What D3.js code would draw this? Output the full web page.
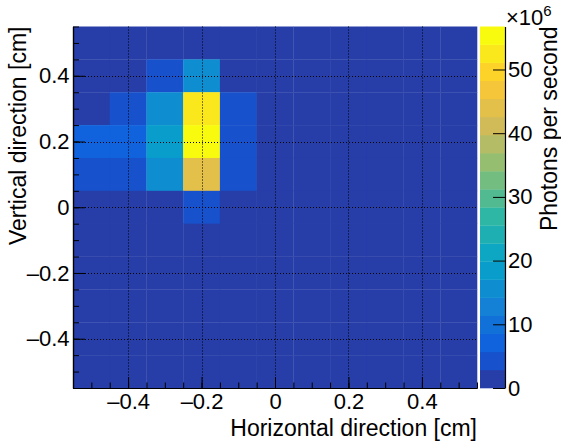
<!DOCTYPE html>
<html>
<head>
<meta charset="utf-8">
<script src="https://cdn.jsdelivr.net/npm/d3@7"></script>
<style>
  body { margin: 0; background: #fff; }
  text { font-family: "Liberation Sans", Arial, Helvetica, sans-serif; }
</style>
</head>
<body>
<div id="chart"></div>
<script>
// bin centres (cm)
var xBins = [-0.5, -0.4, -0.3, -0.2, -0.1, 0, 0.1, 0.2, 0.3, 0.4, 0.5];
var yBins = [0.5, 0.4, 0.3, 0.2, 0.1, 0, -0.1, -0.2, -0.3, -0.4, -0.5];

// photons per second (x1e6), one row per yBins entry
var photons = [
  [0, 0, 0, 0, 0, 0, 0, 0, 0, 0, 0],
  [0, 0, 4.2, 15.0, 0, 0, 0, 0, 0, 0, 0],
  [0, 4.0, 15.5, 52.5, 4.3, 0, 0, 0, 0, 0, 0],
  [7.0, 7.2, 18.2, 56.75, 4.5, 0, 0, 0, 0, 0, 0],
  [4.0, 4.1, 15.2, 43.5, 4.1, 0, 0, 0, 0, 0, 0],
  [0, 0, 0, 4.0, 0, 0, 0, 0, 0, 0, 0],
  [0, 0, 0, 0, 0, 0, 0, 0, 0, 0, 0],
  [0, 0, 0, 0, 0, 0, 0, 0, 0, 0, 0],
  [0, 0, 0, 0, 0, 0, 0, 0, 0, 0, 0],
  [0, 0, 0, 0, 0, 0, 0, 0, 0, 0, 0],
  [0, 0, 0, 0, 0, 0, 0, 0, 0, 0, 0]
];

var axisTicks = [-0.4, -0.2, 0, 0.2, 0.4];
var zTicks = [0, 10, 20, 30, 40, 50];
var nContours = 20;

// ROOT kBird palette stops
var birdStops = [0.0, 0.125, 0.25, 0.375, 0.5, 0.625, 0.75, 0.875, 1.0];
var birdRed = [0.2082, 0.0592, 0.0780, 0.0232, 0.1802, 0.5301, 0.8186, 0.9956, 0.9764];
var birdGreen = [0.1664, 0.3599, 0.5041, 0.6419, 0.7178, 0.7492, 0.7328, 0.7862, 0.9832];
var birdBlue = [0.5293, 0.8684, 0.8385, 0.7914, 0.6425, 0.4662, 0.3499, 0.1968, 0.0539];

var svgWidth = 561;
var svgHeight = 444;
var frame = { left: 73, right: 477, top: 26.5, bottom: 388 };
var pal = { left: 480, right: 505 };

var svg = d3.select("#chart").append("svg")
  .attr("width", svgWidth)
  .attr("height", svgHeight);

svg.append("rect").attr("width", svgWidth).attr("height", svgHeight).attr("fill", "#fff");

var x = d3.scaleLinear().domain([-0.55, 0.55]).range([frame.left, frame.right]);
var y = d3.scaleLinear().domain([-0.55, 0.55]).range([frame.bottom, frame.top]);

var zMax = d3.max(photons, r => d3.max(r));
var z = d3.scaleLinear().domain([0, zMax]).range([frame.bottom, frame.top]);

var bird = d3.scaleLinear()
  .domain(birdStops)
  .range(birdStops.map((s, i) => d3.rgb(birdRed[i] * 255, birdGreen[i] * 255, birdBlue[i] * 255)))
  .interpolate(d3.interpolateRgb);

// colour of contour level, the way ROOT picks it out of 255 colours
function levelColor(k) {
  var idx = Math.floor((k + 0.99) * 255 / nContours);
  return bird(idx / 254);
}
function valueColor(v) {
  var k = Math.min(nContours - 1, Math.floor(v / zMax * nContours));
  return levelColor(k);
}

// cells
var cells = [];
yBins.forEach((yc, j) => xBins.forEach((xc, i) => cells.push({ x: xc, y: yc, v: photons[j][i] })));

var half = 0.05;
svg.append("g").selectAll("rect").data(cells).join("rect")
  .attr("x", d => x(d.x - half))
  .attr("y", d => y(d.y + half))
  .attr("width", d => x(d.x + half) - x(d.x - half) + 0.3)
  .attr("height", d => y(d.y - half) - y(d.y + half) + 0.3)
  .attr("fill", d => valueColor(d.v));

// grid
var grid = svg.append("g").attr("stroke", "#000").attr("stroke-width", 1).attr("stroke-dasharray", "1,2");
grid.selectAll(".gx").data(axisTicks).join("line")
  .attr("x1", d => Math.round(x(d)) + 0.5).attr("x2", d => Math.round(x(d)) + 0.5)
  .attr("y1", frame.top).attr("y2", frame.bottom);
grid.selectAll(".gy").data(axisTicks).join("line")
  .attr("y1", d => Math.round(y(d)) + 0.5).attr("y2", d => Math.round(y(d)) + 0.5)
  .attr("x1", frame.left).attr("x2", frame.right);

var fmt = d => d === 0 ? "0" : d3.format(".1f")(d).replace("\u2212", "\u2013").replace("-", "\u2013");
var minor = d3.range(-0.55, 0.5501, 0.05).map(d => +d.toFixed(2));

// x axis
svg.append("g").attr("transform", `translate(0,${frame.bottom})`)
  .call(d3.axisBottom(x).tickValues(minor).tickSize(-5.5).tickSizeOuter(0).tickFormat(""));
svg.append("g").attr("class", "xaxis").attr("transform", `translate(0,${frame.bottom})`)
  .call(d3.axisBottom(x).tickValues(axisTicks).tickSize(-11).tickSizeOuter(0).tickPadding(5.5).tickFormat(fmt));

// y axis
svg.append("g").attr("transform", `translate(${frame.left},0)`)
  .call(d3.axisLeft(y).tickValues(minor).tickSize(-6).tickSizeOuter(0).tickFormat(""));
svg.append("g").attr("class", "yaxis").attr("transform", `translate(${frame.left},0)`)
  .call(d3.axisLeft(y).tickValues(axisTicks).tickSize(-12).tickSizeOuter(0).tickPadding(3.5).tickFormat(fmt));

// palette
var bands = d3.range(nContours);
svg.append("g").selectAll("rect").data(bands).join("rect")
  .attr("x", pal.left)
  .attr("width", pal.right - pal.left)
  .attr("y", k => z((k + 1) * zMax / nContours))
  .attr("height", k => z(k * zMax / nContours) - z((k + 1) * zMax / nContours) + 0.3)
  .attr("fill", k => levelColor(k));

svg.append("g").attr("class", "zaxis").attr("transform", `translate(${pal.right},0)`)
  .call(d3.axisRight(z).tickValues(zTicks).tickSize(-12).tickSizeOuter(0).tickPadding(3).tickFormat(d3.format("d")));

svg.selectAll(".domain").attr("stroke", "#000").attr("stroke-width", 1.2);
svg.selectAll(".tick line").attr("stroke", "#000").attr("stroke-width", 1);
svg.selectAll(".tick text").attr("font-size", 22).attr("fill", "#000")
  .attr("font-family", "'Liberation Sans', Arial, sans-serif");

// exponent
var expo = svg.append("text").attr("x", 506).attr("y", 25).attr("font-size", 22);
expo.append("tspan").text("\u00d710");
expo.append("tspan").attr("font-size", 15).attr("dy", -9).text("6");

// titles
svg.append("text").attr("x", frame.right).attr("y", 435.5)
  .attr("text-anchor", "end").attr("font-size", 23).text("Horizontal direction [cm]");
svg.append("text").attr("transform", `translate(26,${frame.top}) rotate(-90)`)
  .attr("text-anchor", "end").attr("font-size", 23).text("Vertical direction [cm]");
svg.append("text").attr("transform", `translate(557,${frame.top}) rotate(-90)`)
  .attr("text-anchor", "end").attr("font-size", 23).text("Photons per second");
</script>
</body>
</html>
